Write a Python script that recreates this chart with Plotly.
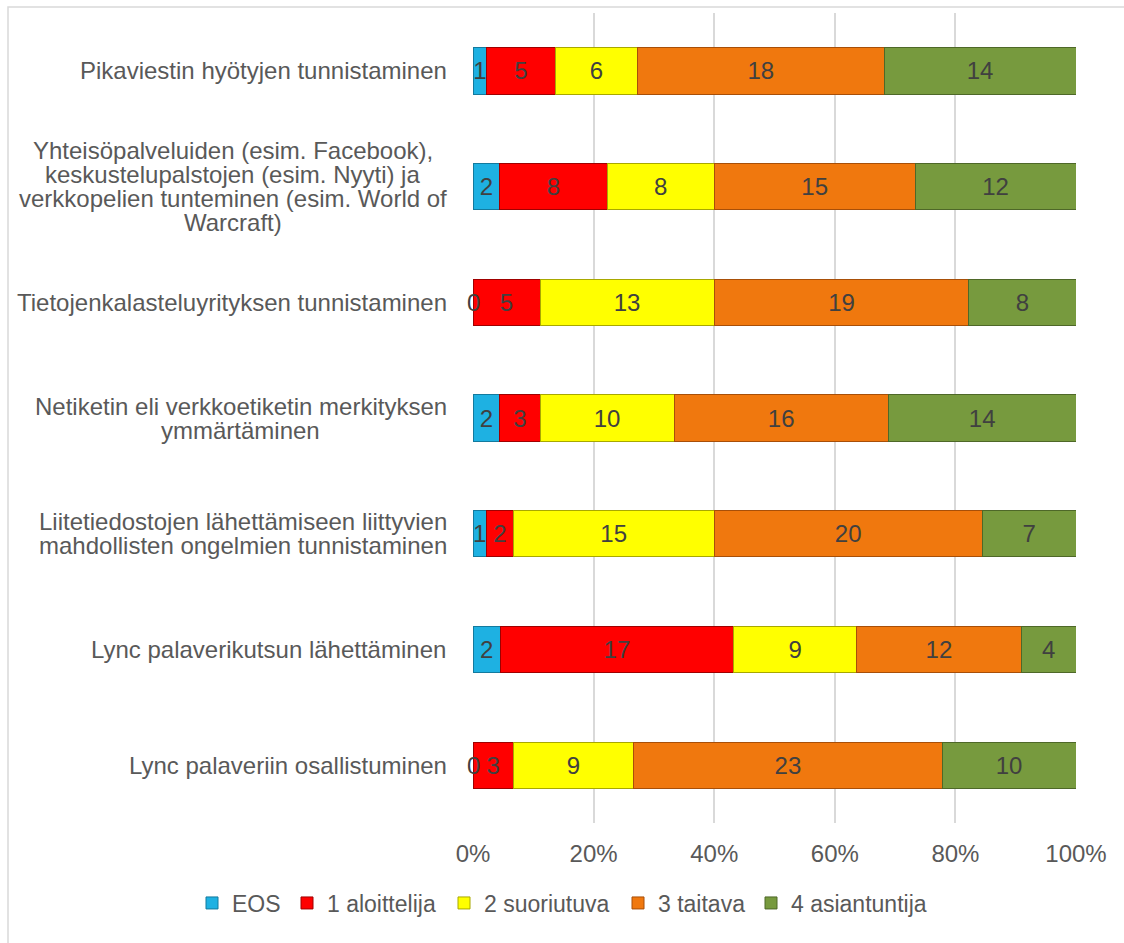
import plotly.graph_objects as go

categories = [
    "Pikaviestin hyötyjen tunnistaminen",
    "Yhteisöpalveluiden (esim. Facebook),<br>keskustelupalstojen (esim. Nyyti) ja<br>verkkopelien tunteminen (esim. World of<br>Warcraft)",
    "Tietojenkalasteluyrityksen tunnistaminen",
    "Netiketin eli verkkoetiketin merkityksen<br>ymmärtäminen",
    "Liitetiedostojen lähettämiseen liittyvien<br>mahdollisten ongelmien tunnistaminen",
    "Lync palaverikutsun lähettäminen",
    "Lync palaveriin osallistuminen",
]

series_names = ["EOS", "1 aloittelija", "2 suoriutuva", "3 taitava", "4 asiantuntija"]
eos = [1, 2, 0, 2, 1, 2, 0]
aloittelija = [5, 8, 5, 3, 2, 17, 3]
suoriutuva = [6, 8, 13, 10, 15, 9, 9]
taitava = [18, 15, 19, 16, 20, 12, 23]
asiantuntija = [14, 12, 8, 14, 7, 4, 10]

x_ticks = [0, 20, 40, 60, 80, 100]

colors = ["#1EB1E2", "#FF0000", "#FFFF00", "#F0780E", "#779A3E"]
edge_colors = ["#137A9E", "#A00000", "#A8A800", "#A84F08", "#4E6828"]

FONT = "Liberation Sans, Arial, sans-serif"
AXIS_COLOR = "#595959"
LABEL_COLOR = "#404040"
FS = 24

# left pixel position of each legend entry's text in the reference layout
legend_text_px = [228, 323, 480, 654, 787]

values = [eos, aloittelija, suoriutuva, taitava, asiantuntija]

PLOT_L, PLOT_W = 473, 603
PLOT_T, PLOT_H = 13, 810

fig = go.Figure()
legend_layout = {}
for k, (name, vals, col, ecol) in enumerate(zip(series_names, values, colors, edge_colors)):
    lname = "legend" if k == 0 else f"legend{k + 1}"
    fig.add_trace(go.Bar(
        name=name,
        y=categories,
        x=vals,
        orientation="h",
        marker=dict(color=col, line=dict(color=ecol, width=1)),
        text=[str(v) if v != 0 else "" for v in vals],
        textposition="inside",
        insidetextanchor="middle",
        textangle=0,
        constraintext="none",
        textfont=dict(family=FONT, size=FS, color=LABEL_COLOR),
        hoverinfo="x+y+name",
        legend=lname,
    ))
    legend_layout[lname] = dict(
        orientation="h",
        xref="paper", x=(legend_text_px[k] - 36 - PLOT_L) / PLOT_W, xanchor="left",
        yref="paper", y=(PLOT_T + PLOT_H - 903) / PLOT_H, yanchor="middle",
        font=dict(family=FONT, size=23, color=AXIS_COLOR),
        itemwidth=30,
        bgcolor="rgba(0,0,0,0)",
    )

annotations = []
# zero-value data labels at the start position of the (empty) bar segment
for ci, cat in enumerate(categories):
    total = sum(values[k][ci] for k in range(len(values)))
    for si, vals in enumerate(values):
        if vals[ci] == 0:
            prev = sum(values[k][ci] for k in range(si))
            annotations.append(dict(
                x=100.0 * prev / total, y=cat, xref="x", yref="y",
                text="0", showarrow=False, xanchor="center", yanchor="middle",
                font=dict(family=FONT, size=FS, color=LABEL_COLOR),
            ))

# Arial-like character widths (per em) for centering multi-line category labels
W = {' ': .278, '(': .333, ')': .333, '.': .278, ',': .278,
     'a': .556, 'b': .556, 'c': .5, 'd': .556, 'e': .556, 'f': .278, 'g': .556, 'h': .556,
     'i': .222, 'j': .222, 'k': .5, 'l': .222, 'm': .833, 'n': .556, 'o': .556, 'p': .556,
     'q': .556, 'r': .333, 's': .5, 't': .278, 'u': .556, 'v': .5, 'w': .722, 'x': .5,
     'y': .5, 'z': .5, 'ä': .556, 'ö': .556,
     'F': .611, 'L': .556, 'N': .722, 'P': .667, 'T': .611, 'W': .944, 'Y': .667}


def text_width(s):
    return sum(W.get(ch, .556) for ch in s) * FS


LINE_H = 24
RIGHT_GAP = 26
for cat in categories:
    lines = cat.split("<br>")
    maxw = max(text_width(l) for l in lines)
    n = len(lines)
    for i, line in enumerate(lines):
        annotations.append(dict(
            x=0, y=cat, xref="paper", yref="y",
            text=line, showarrow=False, xanchor="center", yanchor="middle",
            xshift=-(RIGHT_GAP + maxw / 2), yshift=((n - 1) / 2 - i) * LINE_H,
            font=dict(family=FONT, size=FS, color=AXIS_COLOR),
        ))

fig.update_layout(
    barmode="stack",
    barnorm="percent",
    bargap=0.6,
    width=1124,
    height=943,
    margin=dict(l=PLOT_L, r=1124 - PLOT_L - PLOT_W, t=PLOT_T, b=943 - PLOT_T - PLOT_H, autoexpand=False),
    paper_bgcolor="white",
    plot_bgcolor="white",
    font=dict(family=FONT, size=FS, color=AXIS_COLOR),
    xaxis=dict(
        range=[0, 100],
        tickvals=x_ticks,
        ticktext=[f"{t}%" for t in x_ticks],
        showgrid=True,
        gridcolor="#D9D9D9",
        gridwidth=1.5,
        zeroline=False,
        showline=False,
        ticks="",
        ticklabelstandoff=14,
        tickfont=dict(family=FONT, size=FS, color=AXIS_COLOR),
        fixedrange=True,
        automargin=False,
    ),
    yaxis=dict(
        autorange="reversed",
        showticklabels=False,
        showgrid=False,
        zeroline=False,
        ticks="",
        fixedrange=True,
        automargin=False,
    ),
    annotations=annotations,
    shapes=[dict(
        type="rect", xref="paper", yref="paper",
        x0=(8 - PLOT_L) / PLOT_W, x1=1.3, y0=-0.4, y1=(PLOT_T + PLOT_H - 7) / PLOT_H,
        line=dict(color="#D9D9D9", width=1.5), fillcolor="rgba(0,0,0,0)", layer="below",
    )],
    showlegend=True,
    **legend_layout,
)

fig.write_html("out.html")
